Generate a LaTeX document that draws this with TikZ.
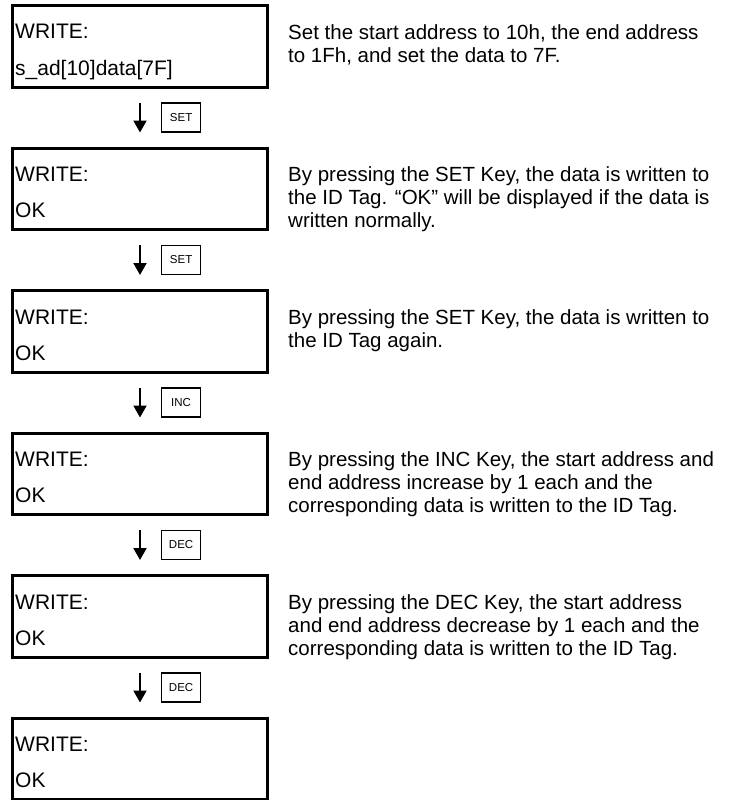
\documentclass[tikz,border=0pt]{standalone}
\usepackage{fontspec}
\setmainfont{Liberation Sans}
\usepackage{tikz}
\usetikzlibrary{arrows.meta,positioning}

\begin{document}
\begin{tikzpicture}[
    x=1pt, y=1pt,
    lcd/.style={draw, line width=3pt, minimum width=255pt, minimum height=81.5pt, inner sep=0pt},
    lcdtext/.style={anchor=base west, inner sep=0pt, font=\fontsize{21}{21}\selectfont},
    note/.style={anchor=north west, align=left, inner sep=0pt, font=\fontsize{20.5}{23}\selectfont},
    keybox/.style={draw, line width=1.2pt, minimum width=39pt, minimum height=29pt, inner sep=0pt, font=\fontsize{11.5}{12}\selectfont},
    keyarrow/.style={draw, line width=2pt, -{Triangle[width=13pt,length=12pt]}, shorten <=14pt, shorten >=14pt}
]
\useasboundingbox (0,0) rectangle (735,-800);

% display panels
\node[lcd] (lcd1) at (140,-46.25) {};
\node[lcd, below=58pt of lcd1] (lcd2) {};
\node[lcd, below=58pt of lcd2] (lcd3) {};
\node[lcd, below=58pt of lcd3] (lcd4) {};
\node[lcd, below=58pt of lcd4] (lcd5) {};
\node[lcd, below=58pt of lcd5] (lcd6) {};

% display contents
\node[lcdtext] (w1) at ([xshift=4pt,yshift=-35pt]lcd1.north west) {WRITE:};
\node[lcdtext] (d1) at ([xshift=4pt,yshift=-71pt]lcd1.north west) {s\_ad[10]data[7F]};
\node[lcdtext] (w2) at ([xshift=4pt,yshift=-35pt]lcd2.north west) {WRITE:};
\node[lcdtext] (d2) at ([xshift=4pt,yshift=-71pt]lcd2.north west) {OK};
\node[lcdtext] (w3) at ([xshift=4pt,yshift=-35pt]lcd3.north west) {WRITE:};
\node[lcdtext] (d3) at ([xshift=4pt,yshift=-71pt]lcd3.north west) {OK};
\node[lcdtext] (w4) at ([xshift=4pt,yshift=-35pt]lcd4.north west) {WRITE:};
\node[lcdtext] (d4) at ([xshift=4pt,yshift=-71pt]lcd4.north west) {OK};
\node[lcdtext] (w5) at ([xshift=4pt,yshift=-35pt]lcd5.north west) {WRITE:};
\node[lcdtext] (d5) at ([xshift=4pt,yshift=-71pt]lcd5.north west) {OK};
\node[lcdtext] (w6) at ([xshift=4pt,yshift=-35pt]lcd6.north west) {WRITE:};
\node[lcdtext] (d6) at ([xshift=4pt,yshift=-71pt]lcd6.north west) {OK};

% key presses
\draw[keyarrow] (lcd1) -- (lcd2) node[keybox, midway, right=21pt] (key1) {SET};
\draw[keyarrow] (lcd2) -- (lcd3) node[keybox, midway, right=21pt] (key2) {SET};
\draw[keyarrow] (lcd3) -- (lcd4) node[keybox, midway, right=21pt] (key3) {INC};
\draw[keyarrow] (lcd4) -- (lcd5) node[keybox, midway, right=21pt] (key4) {DEC};
\draw[keyarrow] (lcd5) -- (lcd6) node[keybox, midway, right=21pt] (key5) {DEC};

% explanations
\node[note] (note1) at ([xshift=19pt,yshift=-20pt]lcd1.north east)
  {Set the start address to 10h, the end address\\to 1Fh, and set the data to 7F.};
\node[note] (note2) at ([xshift=19pt,yshift=-20pt]lcd2.north east)
  {By pressing the SET Key, the data is written to\\the ID Tag. “OK” will be displayed if the data is\\written normally.};
\node[note] (note3) at ([xshift=19pt,yshift=-20pt]lcd3.north east)
  {By pressing the SET Key, the data is written to\\the ID Tag again.};
\node[note] (note4) at ([xshift=19pt,yshift=-20pt]lcd4.north east)
  {By pressing the INC Key, the start address and\\end address increase by 1 each and the\\corresponding data is written to the ID Tag.};
\node[note] (note5) at ([xshift=19pt,yshift=-20pt]lcd5.north east)
  {By pressing the DEC Key, the start address\\and end address decrease by 1 each and the\\corresponding data is written to the ID Tag.};
\end{tikzpicture}
\end{document}
